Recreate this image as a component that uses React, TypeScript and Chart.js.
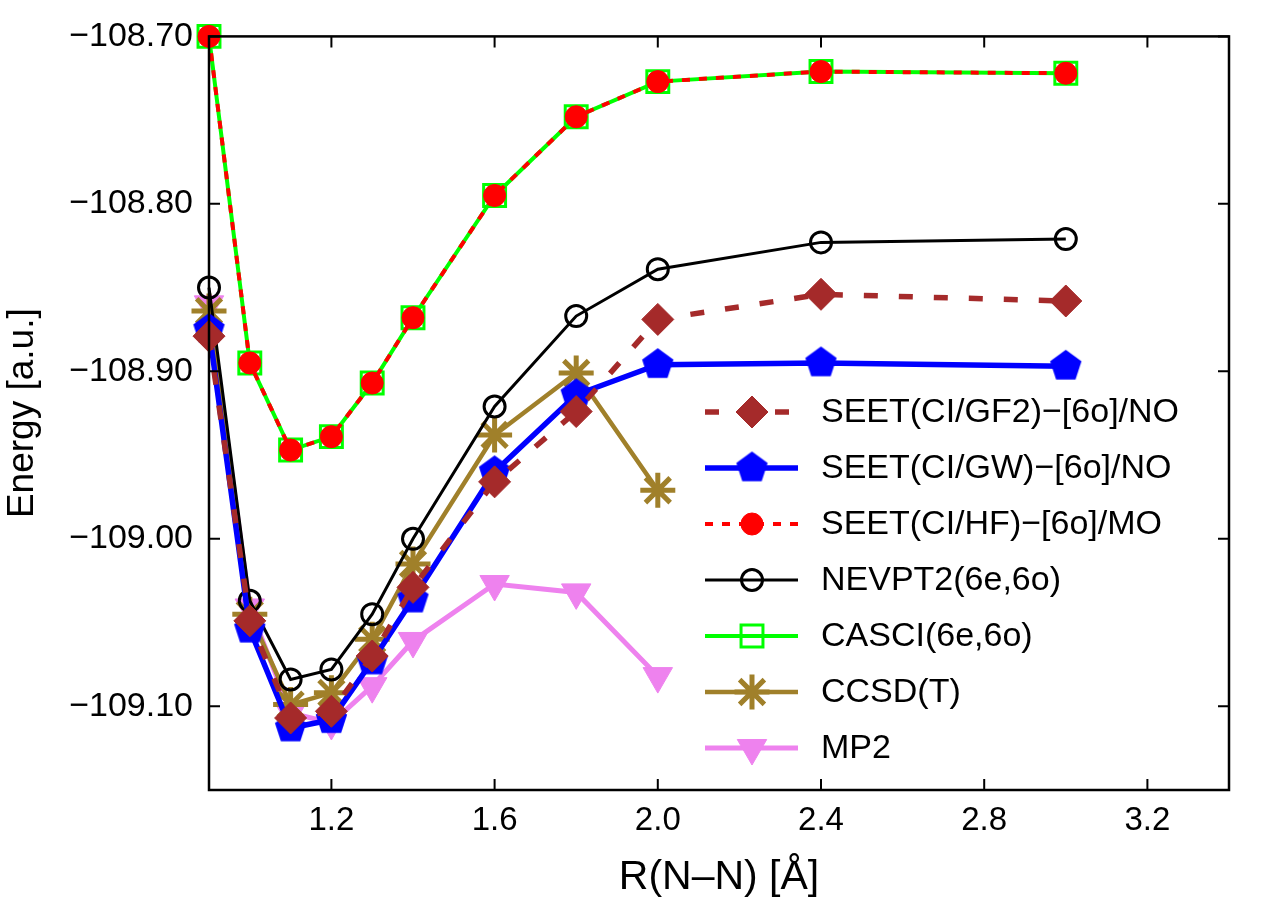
import React, { useEffect, useRef } from 'react';
import { Chart, registerables } from 'chart.js';
import { drawPoint } from 'chart.js/helpers';

Chart.register(...registerables);

// ---------------- data ----------------
const R_FULL = [0.9, 1.0, 1.1, 1.2, 1.3, 1.4, 1.6, 1.8, 2.0, 2.4, 3.0];
const R_SHORT = [0.9, 1.0, 1.1, 1.2, 1.3, 1.4, 1.6, 1.8, 2.0];

const SEET_GF2 = [-108.879, -109.049, -109.107, -109.103, -109.070, -109.029, -108.966, -108.924, -108.869, -108.854, -108.858];
const SEET_GW = [-108.875, -109.054, -109.113, -109.108, -109.073, -109.036, -108.960, -108.914, -108.896, -108.895, -108.897];
const SEET_HF = [-108.700, -108.895, -108.947, -108.939, -108.907, -108.868, -108.795, -108.748, -108.727, -108.721, -108.722];
const NEVPT2 = [-108.850, -109.037, -109.084, -109.078, -109.045, -109.000, -108.921, -108.867, -108.839, -108.823, -108.821];
const CASCI = [-108.700, -108.895, -108.947, -108.939, -108.907, -108.868, -108.795, -108.748, -108.727, -108.721, -108.722];
const CCSDT = [-108.864, -109.045, -109.099, -109.092, -109.060, -109.015, -108.938, -108.901, -108.971];
const MP2 = [-108.860, -109.041, -109.104, -109.110, -109.088, -109.061, -109.027, -109.032, -109.082];

const LABELS = [
  'SEET(CI/GF2)−[6o]/NO',
  'SEET(CI/GW)−[6o]/NO',
  'SEET(CI/HF)−[6o]/MO',
  'NEVPT2(6e,6o)',
  'CASCI(6e,6o)',
  'CCSD(T)',
  'MP2',
];

const X_TICKS = [1.2, 1.6, 2.0, 2.4, 2.8, 3.2];
const Y_TICKS = [-109.1, -109.0, -108.9, -108.8, -108.7];

const FONT = "'Liberation Sans', Arial, Helvetica, sans-serif";

function pts(xs: number[], ys: number[]) {
  return ys.map((y, i) => ({ x: xs[i], y }));
}

function makePentagon(color: string, R: number) {
  const c = document.createElement('canvas');
  const s = Math.ceil(2 * R + 2);
  c.width = s;
  c.height = s;
  const ctx = c.getContext('2d')!;
  const cx = s / 2;
  const cy = s / 2;
  ctx.beginPath();
  for (let i = 0; i < 5; i++) {
    const a = -Math.PI / 2 + (i * 2 * Math.PI) / 5;
    const px = cx + R * Math.cos(a);
    const py = cy + R * Math.sin(a);
    if (i === 0) ctx.moveTo(px, py);
    else ctx.lineTo(px, py);
  }
  ctx.closePath();
  ctx.fillStyle = color;
  ctx.fill();
  return c;
}

const frameAndLegend = {
  id: 'frameAndLegend',
  afterDatasetsDraw(chart: any) {
    const { ctx, chartArea } = chart;
    const { left, right, top, bottom } = chartArea;
    const xs = chart.scales.x;
    const ys = chart.scales.y;
    ctx.save();
    ctx.strokeStyle = '#000';
    ctx.lineWidth = 2.5;
    ctx.setLineDash([]);
    ctx.strokeRect(left, top, right - left, bottom - top);
    ctx.lineWidth = 2;
    const tl = 11;
    X_TICKS.forEach((v) => {
      const px = xs.getPixelForValue(v);
      ctx.beginPath();
      ctx.moveTo(px, bottom);
      ctx.lineTo(px, bottom - tl);
      ctx.moveTo(px, top);
      ctx.lineTo(px, top + tl);
      ctx.stroke();
    });
    Y_TICKS.forEach((v) => {
      const py = ys.getPixelForValue(v);
      ctx.beginPath();
      ctx.moveTo(left, py);
      ctx.lineTo(left + tl, py);
      ctx.moveTo(right, py);
      ctx.lineTo(right - tl, py);
      ctx.stroke();
    });
    ctx.restore();
  },
  afterDraw(chart: any) {
    const { ctx } = chart;
    const x0 = 705;
    const x1 = 798;
    const xm = 752;
    const tx = 821;
    const y0 = 412;
    const dy = 56;
    chart.data.datasets.forEach((ds: any, i: number) => {
      const y = y0 + i * dy;
      ctx.save();
      ctx.strokeStyle = ds.borderColor;
      ctx.lineWidth = ds.borderWidth;
      ctx.setLineDash(ds.borderDash || []);
      ctx.lineCap = 'butt';
      ctx.beginPath();
      ctx.moveTo(x0, y);
      ctx.lineTo(x1, y);
      ctx.stroke();
      ctx.setLineDash([]);
      ctx.fillStyle = ds.pointBackgroundColor;
      ctx.strokeStyle = ds.pointBorderColor;
      ctx.lineWidth = ds.pointBorderWidth;
      drawPoint(ctx, {
        pointStyle: ds.pointStyle,
        rotation: ds.pointRotation || 0,
        radius: ds.pointRadius,
        borderWidth: ds.pointBorderWidth,
      } as any, xm, y);
      ctx.fillStyle = '#000';
      ctx.font = `34px ${FONT}`;
      ctx.textAlign = 'left';
      ctx.textBaseline = 'middle';
      ctx.fillText(ds.label, tx, y + 1);
      ctx.restore();
    });
  },
};

export default function App() {
  const ref = useRef<HTMLCanvasElement | null>(null);

  useEffect(() => {
    document.body.style.margin = '0';
    document.body.style.overflow = 'hidden';
    const canvas = ref.current!;
    const pent = makePentagon('#0000ff', 16.5);

    const chart = new Chart(canvas, {
      type: 'line',
      data: {
        datasets: [
          {
            label: LABELS[0],
            data: pts(R_FULL, SEET_GF2),
            borderColor: '#a52a2a',
            borderWidth: 5.5,
            borderDash: [14, 21],
            pointStyle: 'rectRot',
            pointRadius: 16,
            pointBackgroundColor: '#a52a2a',
            pointBorderColor: '#a52a2a',
            pointBorderWidth: 1,
          },
          {
            label: LABELS[1],
            data: pts(R_FULL, SEET_GW),
            borderColor: '#0000ff',
            borderWidth: 5.5,
            pointStyle: pent,
            pointRadius: 16,
            pointBackgroundColor: '#0000ff',
            pointBorderColor: '#0000ff',
            pointBorderWidth: 0,
          },
          {
            label: LABELS[2],
            data: pts(R_FULL, SEET_HF),
            borderColor: '#ff0000',
            borderWidth: 4,
            borderDash: [8, 9],
            pointStyle: 'circle',
            pointRadius: 11,
            pointBackgroundColor: '#ff0000',
            pointBorderColor: '#ff0000',
            pointBorderWidth: 1,
          },
          {
            label: LABELS[3],
            data: pts(R_FULL, NEVPT2),
            borderColor: '#000000',
            borderWidth: 3,
            pointStyle: 'circle',
            pointRadius: 10.5,
            pointBackgroundColor: 'rgba(0,0,0,0)',
            pointBorderColor: '#000000',
            pointBorderWidth: 3,
          },
          {
            label: LABELS[4],
            data: pts(R_FULL, CASCI),
            borderColor: '#00ff00',
            borderWidth: 4,
            pointStyle: 'rect',
            pointRadius: 15.5,
            pointBackgroundColor: 'rgba(0,0,0,0)',
            pointBorderColor: '#00ff00',
            pointBorderWidth: 3,
          },
          {
            label: LABELS[5],
            data: pts(R_SHORT, CCSDT),
            borderColor: '#a0802a',
            borderWidth: 4.5,
            pointStyle: 'star',
            pointRadius: 17.5,
            pointBackgroundColor: '#a0802a',
            pointBorderColor: '#a0802a',
            pointBorderWidth: 5,
          },
          {
            label: LABELS[6],
            data: pts(R_SHORT, MP2),
            borderColor: '#ee82ee',
            borderWidth: 5,
            pointStyle: 'triangle',
            pointRotation: 180,
            pointRadius: 17,
            pointBackgroundColor: '#ee82ee',
            pointBorderColor: '#ee82ee',
            pointBorderWidth: 1,
          },
        ] as any,
      },
      options: {
        responsive: false,
        animation: false,
        devicePixelRatio: 1,
        layout: { padding: { left: 0, top: 28, right: 33, bottom: 0 }, autoPadding: false } as any,
        elements: { line: { tension: 0 } },
        datasets: { line: { clip: false } as any },
        plugins: {
          legend: { display: false },
          tooltip: { enabled: false },
        },
        scales: {
          x: {
            type: 'linear',
            min: 0.9,
            max: 3.4,
            grid: { display: false, drawTicks: false },
            border: { display: false },
            afterBuildTicks: (s: any) => {
              s.ticks = X_TICKS.map((v) => ({ value: v }));
            },
            afterFit: (s: any) => {
              s.height = 118;
            },
            ticks: {
              color: '#000',
              font: { family: FONT, size: 33 },
              padding: 11,
              maxRotation: 0,
              autoSkip: false,
              callback: (v: any) => Number(v).toFixed(1),
            },
            title: {
              display: true,
              text: 'R(N–N) [Å]',
              color: '#000',
              font: { family: FONT, size: 41 },
              padding: { top: 0, bottom: 6 },
            },
          },
          y: {
            type: 'linear',
            min: -109.15,
            max: -108.7,
            grid: { display: false, drawTicks: false },
            border: { display: false },
            afterBuildTicks: (s: any) => {
              s.ticks = Y_TICKS.map((v) => ({ value: v }));
            },
            afterFit: (s: any) => {
              s.width = 209;
            },
            ticks: {
              color: '#000',
              font: { family: FONT, size: 34 },
              padding: 16,
              autoSkip: false,
              callback: (v: any) => '−' + Math.abs(Number(v)).toFixed(2),
            },
            title: {
              display: true,
              text: 'Energy [a.u.]',
              color: '#000',
              font: { family: FONT, size: 37 },
              padding: { top: 1, bottom: 0 },
            },
          },
        },
      },
      plugins: [frameAndLegend],
    });
    return () => chart.destroy();
  }, []);

  return (
    <div style={{ position: 'absolute', left: 0, top: 0, width: 1262, height: 908, background: '#fff' }}>
      <canvas ref={ref} width={1262} height={908} style={{ display: 'block', width: 1262, height: 908 }} />
    </div>
  );
}
